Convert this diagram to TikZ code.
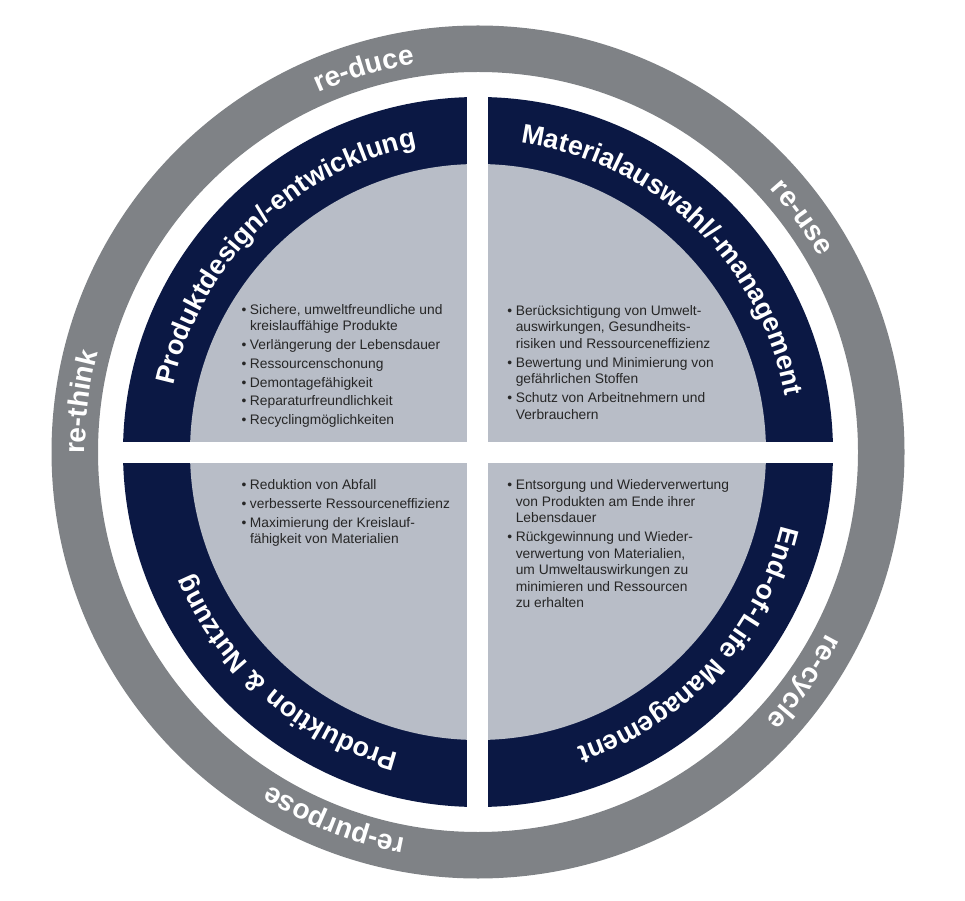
\documentclass[tikz,border=0pt]{standalone}
\usepackage{fontspec}
\setmainfont{Liberation Sans}
\usetikzlibrary{decorations.text,calc}
\definecolor{navy}{RGB}{11,24,68}
\definecolor{ringgray}{RGB}{127,130,134}
\definecolor{panelgray}{RGB}{184,189,199}
\definecolor{bodytext}{RGB}{38,38,38}
\newcommand\navyfont{\fontsize{27}{27}\selectfont\bfseries\color{white}}
\newcommand\ringfont{\fontsize{28}{28}\selectfont\bfseries\color{white}}
\newcommand\bul{\llap{\textbullet\hspace{3.6pt}}}
\begin{document}
\begin{tikzpicture}[x=1pt,y=1pt,
  bodyline/.style={anchor=base west, inner sep=0pt, outer sep=0pt,
    font=\fontsize{13.8}{16.6}\selectfont, text=bodytext},
  navylabel/.style={decorate, decoration={text along path, text align=center, text={|\navyfont|#1}}},
  ringlabel/.style={decorate, decoration={text along path, text align=center, text={|\ringfont|#1}}}]
\useasboundingbox (0,0) rectangle (965,900);
\coordinate (C) at (478,448);
% rings
\fill[ringgray, even odd rule] (C) circle[radius=426.5] (C) circle[radius=380];
\fill[navy] (C) circle[radius=355];
\fill[panelgray] (C) circle[radius=288];
% white cross
\fill[white] (467,80) rectangle (488,820);
\fill[white] (110,437) rectangle (846,458);
% navy band labels
\path[navylabel={Produktdesign/-entwicklung}] ($(C)+(184.5:312)$) arc[start angle=184.5, end angle=84.5, radius=312];
\path[navylabel={Materialauswahl/-management}] ($(C)+(96.2:312)$) arc[start angle=96.2, end angle=-3.8, radius=312];
\path[navylabel={Produktion {\&} Nutzung}] ($(C)+(279.1:312)$) arc[start angle=279.1, end angle=179.1, radius=312];
\path[navylabel={End-of-Life Management}] ($(C)+(367.5:312)$) arc[start angle=367.5, end angle=267.5, radius=312];
% ring labels
\path[ringlabel={re-think}] ($(C)+(202.8:393)$) arc[start angle=202.8, end angle=142.8, radius=393];
\path[ringlabel={re-duce}] ($(C)+(136.6:393)$) arc[start angle=136.6, end angle=76.6, radius=393];
\path[ringlabel={re-use}] ($(C)+(65.9:393)$) arc[start angle=65.9, end angle=5.9, radius=393];
\path[ringlabel={re-cycle}] ($(C)+(-5.2:393)$) arc[start angle=-5.2, end angle=-65.2, radius=393];
\path[ringlabel={re-purpose}] ($(C)+(278.7:393)$) arc[start angle=278.7, end angle=218.7, radius=393];
% top-left bullets
\node[bodyline] (tl1) at (250,585.7) {\bul Sichere, umweltfreundliche und};
\node[bodyline] (tl2) at (250,569.1) {kreislauffähige Produkte};
\node[bodyline] (tl3) at (250,550.4) {\bul Verlängerung der Lebensdauer};
\node[bodyline] (tl4) at (250,531.6) {\bul Ressourcenschonung};
\node[bodyline] (tl5) at (250,512.9) {\bul Demontagefähigkeit};
\node[bodyline] (tl6) at (250,494.2) {\bul Reparaturfreundlichkeit};
\node[bodyline] (tl7) at (250,475.5) {\bul Recyclingmöglichkeiten};
% top-right bullets
\node[bodyline] (tr1) at (515.8,584.7) {\bul Berücksichtigung von Umwelt-};
\node[bodyline] (tr2) at (515.8,568.1) {auswirkungen, Gesundheits-};
\node[bodyline] (tr3) at (515.8,551.5) {risiken und Ressourceneffizienz};
\node[bodyline] (tr4) at (515.8,532.8) {\bul Bewertung und Minimierung von};
\node[bodyline] (tr5) at (515.8,516.2) {gefährlichen Stoffen};
\node[bodyline] (tr6) at (515.8,497.5) {\bul Schutz von Arbeitnehmern und};
\node[bodyline] (tr7) at (515.8,480.9) {Verbrauchern};
% bottom-left bullets
\node[bodyline] (bl1) at (250,410.4) {\bul Reduktion von Abfall};
\node[bodyline] (bl2) at (250,391.7) {\bul verbesserte Ressourceneffizienz};
\node[bodyline] (bl3) at (250,373.0) {\bul Maximierung der Kreislauf-};
\node[bodyline] (bl4) at (250,356.4) {fähigkeit von Materialien};
% bottom-right bullets
\node[bodyline] (br1) at (515.8,410.4) {\bul Entsorgung und Wiederverwertung};
\node[bodyline] (br2) at (515.8,393.8) {von Produkten am Ende ihrer};
\node[bodyline] (br3) at (515.8,377.2) {Lebensdauer};
\node[bodyline] (br4) at (515.8,358.5) {\bul Rückgewinnung und Wieder-};
\node[bodyline] (br5) at (515.8,341.9) {verwertung von Materialien,};
\node[bodyline] (br6) at (515.8,325.3) {um Umweltauswirkungen zu};
\node[bodyline] (br7) at (515.8,308.7) {minimieren und Ressourcen};
\node[bodyline] (br8) at (515.8,292.1) {zu erhalten};
\end{tikzpicture}
\end{document}
